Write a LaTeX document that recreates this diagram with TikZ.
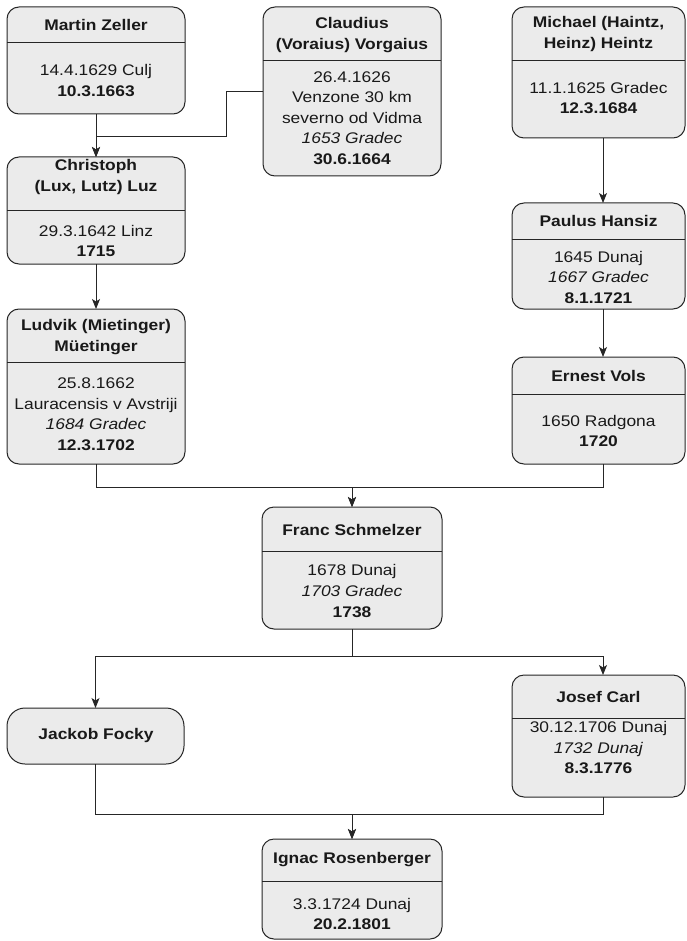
\documentclass[tikz,border=0pt]{standalone}
\usepackage{fontspec}
\setmainfont{Liberation Sans}[FakeStretch=1.13]
\usetikzlibrary{arrows.meta}
\tikzset{
 pbox/.style={draw=black!85, fill=black!8, rounded corners=12pt, line width=1pt, inner sep=0pt, outer sep=0pt},
 hd/.style={font=\fontsize{15.4}{20.5}\selectfont\bfseries, align=center, inner sep=0pt, text=black!90},
 bd/.style={font=\fontsize{15.4}{20.5}\selectfont, align=center, inner sep=0pt, text=black!90},
 arr/.style={draw=black!85, line width=1pt, -{Stealth[length=10pt,width=8pt,inset=2.5pt]}},
 ln/.style={draw=black!85, line width=1pt},
}
\newcommand\pbx[6][]{\node[pbox,#1, minimum width={#5-#3}, minimum height={#6-#4}] (#2) at ({(#3+#5)/2},{(#4+#6)/2}) {};}
\begin{document}
\begin{tikzpicture}[x=1pt,y=-1pt]
\useasboundingbox (0,0) rectangle (686,941);
% boxes
\pbx{mz}{7}{7}{185}{114}
\pbx{cv}{263}{7}{441}{176}
\pbx{mh}{512}{7}{685}{138}
\pbx{cl}{7}{157}{185}{264}
\pbx{ph}{512}{203}{685}{309}
\pbx{lm}{7}{309}{185}{464}
\pbx{ev}{512}{357}{685}{464}
\pbx{fs}{262}{507}{442}{629}
\pbx[rounded corners=18pt]{jf}{7}{708}{184}{764}
\pbx{jc}{512}{675}{685}{797}
\pbx{ir}{262}{839}{442}{939}
% dividers
\draw[ln] (mz.west |- 0,43) -- (mz.east |- 0,43);
\draw[ln] (cv.west |- 0,61) -- (cv.east |- 0,61);
\draw[ln] (mh.west |- 0,61) -- (mh.east |- 0,61);
\draw[ln] (cl.west |- 0,211) -- (cl.east |- 0,211);
\draw[ln] (ph.west |- 0,239) -- (ph.east |- 0,239);
\draw[ln] (lm.west |- 0,362) -- (lm.east |- 0,362);
\draw[ln] (ev.west |- 0,394) -- (ev.east |- 0,394);
\draw[ln] (fs.west |- 0,551) -- (fs.east |- 0,551);
\draw[ln] (jc.west |- 0,718) -- (jc.east |- 0,718);
\draw[ln] (ir.west |- 0,881) -- (ir.east |- 0,881);
% texts
\node[hd] (mzh) at (96,25) {Martin Zeller};
\node[bd] (mzb) at (96,80.5) {14.4.1629 Culj\\\textbf{10.3.1663}};
\node[hd] (cvh) at (352,35) {Claudius\\(Voraius) Vorgaius};
\node[bd] (cvb) at (352,118) {26.4.1626\\Venzone 30 km\\severno od Vidma\\\textit{1653 Gradec}\\\textbf{30.6.1664}};
\node[hd] (mhh) at (598.5,34) {Michael (Haintz,\\Heinz) Heintz};
\node[bd] (mhb) at (598.5,98) {11.1.1625 Gradec\\\textbf{12.3.1684}};
\node[hd] (clh) at (96,177) {Christoph\\(Lux, Lutz) Luz};
\node[bd] (clb) at (96,241) {29.3.1642 Linz\\\textbf{1715}};
\node[hd] (phh) at (598.5,221) {Paulus Hansiz};
\node[bd] (phb) at (598.5,277) {1645 Dunaj\\\textit{1667 Gradec}\\\textbf{8.1.1721}};
\node[hd] (lmh) at (96,337) {Ludvik (Mietinger)\\Müetinger};
\node[bd] (lmb) at (96,414) {25.8.1662\\Lauracensis v Avstriji\\\textit{1684 Gradec}\\\textbf{12.3.1702}};
\node[hd] (evh) at (598.5,376) {Ernest Vols};
\node[bd] (evb) at (598.5,431) {1650 Radgona\\\textbf{1720}};
\node[hd] (fsh) at (352,530) {Franc Schmelzer};
\node[bd] (fsb) at (352,591) {1678 Dunaj\\\textit{1703 Gradec}\\\textbf{1738}};
\node[hd] (jfh) at (96,736) {Jackob Focky};
\node[hd] (jch) at (598.5,697) {Josef Carl};
\node[bd] (jcb) at (598.5,747.5) {30.12.1706 Dunaj\\\textit{1732 Dunaj}\\\textbf{8.3.1776}};
\node[hd] (irh) at (352,860) {Ignac Rosenberger};
\node[bd] (irb) at (352,914) {3.3.1724 Dunaj\\\textbf{20.2.1801}};
% bend coordinates
\coordinate (cvbend) at (226,137);
% connectors
\draw[arr] (mz.south) -- (cl.north);
\draw[arr] (cv.west) -| (cvbend) -| (cl.north);
\draw[arr] (cl.south) -- (lm.north);
\draw[arr] (mh.south -| 603,0) -- (ph.north -| 603,0);
\draw[arr] (ph.south -| 603,0) -- (ev.north -| 603,0);
\draw[arr] (lm.south) -- ++(0,23) -| (fs.north);
\draw[arr] (ev.south -| 603,0) -- ++(0,23) -| (fs.north);
\draw[arr] (fs.south) -- ++(0,27) -| (jf.north);
\draw[arr] (fs.south) -- ++(0,27) -| (jc.north -| 603,0);
\draw[arr] (jf.south) -- ++(0,50) -| (ir.north);
\draw[arr] (jc.south -| 603,0) -- ++(0,17) -| (ir.north);
\end{tikzpicture}
\end{document}
